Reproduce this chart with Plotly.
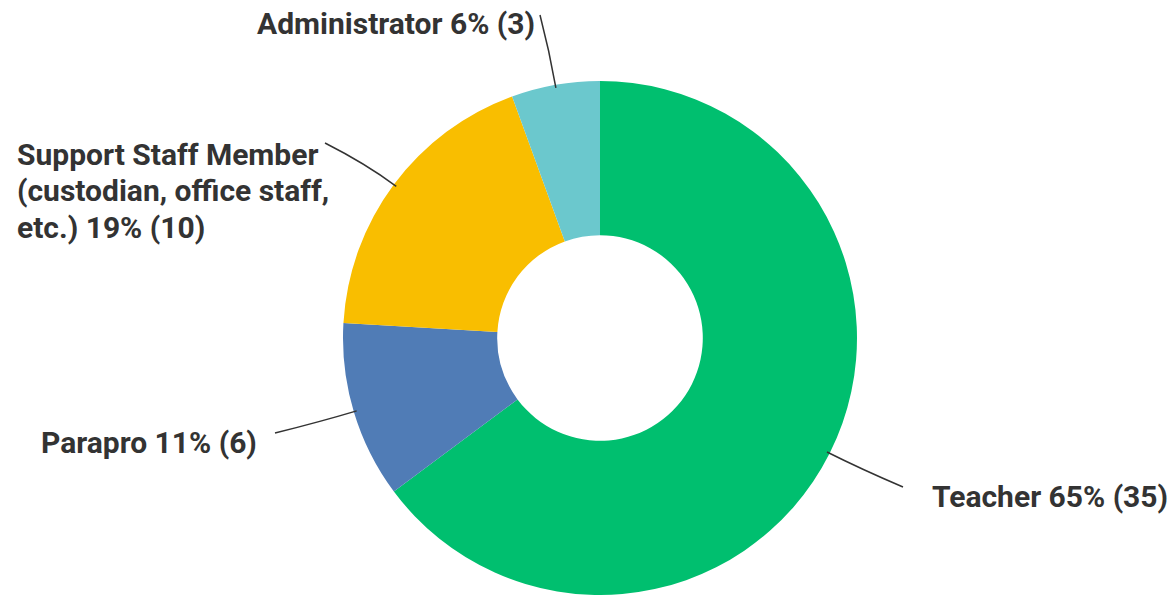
import math
import plotly.graph_objects as go

# ---- data ----
categories = ["Teacher", "Parapro", "Support Staff Member<br>(custodian, office staff,<br>etc.)", "Administrator"]
counts = [35, 6, 10, 3]
colors = ["#00BF6F", "#507CB6", "#F9BE00", "#6BC8CD"]

W, H = 1173, 595
CX, CY, R = 600, 338, 257
LINE_GAP = 36

fig = go.Figure(go.Pie(
    labels=categories,
    values=counts,
    hole=0.4,
    sort=False,
    direction="clockwise",
    rotation=0,
    marker=dict(colors=colors, line=dict(width=0)),
    textinfo="none",
    hoverinfo="label+percent+value",
    domain=dict(x=[(CX - R) / W, (CX + R) / W], y=[(H - CY - R) / H, (H - CY + R) / H]),
    showlegend=False,
))

# label placement (layout): anchor of first-line text, line end point
label_layout = [
    dict(x=930, y=496, xanchor="left", end=(903, 487)),
    dict(x=259, y=442, xanchor="right", end=(275, 433)),
    dict(x=15, y=155, xanchor="left", end=(325, 143)),
    dict(x=537, y=24, xanchor="right", end=(540, 15)),
]

def px2paper(px, py):
    return px / W, 1 - py / H

total = sum(counts)
cum = 0
shapes = []
annotations = []
for cat, v, lay in zip(categories, counts, label_layout):
    pct = round(100 * v / total)
    mid = (cum + v / 2) / total * 2 * math.pi
    cum += v
    dx, dy = math.sin(mid), -math.cos(mid)
    sx, sy = CX + (R - 3) * dx, CY + (R - 3) * dy
    cx, cy = sx + 38 * dx, sy + 38 * dy
    ex, ey = lay["end"]
    a = px2paper(sx, sy)
    b = px2paper(cx, cy)
    c = px2paper(ex, ey)
    shapes.append(dict(
        type="path", xref="paper", yref="paper",
        path=f"M {a[0]},{a[1]} Q {b[0]},{b[1]} {c[0]},{c[1]}",
        line=dict(color="#333333", width=1.5),
    ))
    lines = f"{cat} {pct}% ({v})".split("<br>")
    for i, ln in enumerate(lines):
        lx, ly = px2paper(lay["x"], lay["y"] + i * LINE_GAP)
        annotations.append(dict(
            text=ln, x=lx, y=ly, xref="paper", yref="paper",
            xanchor=lay["xanchor"], yanchor="middle", align="left",
            showarrow=False,
            font=dict(family="Roboto", size=30, color="#333333", weight=700),
        ))

fig.update_layout(
    width=W, height=H,
    margin=dict(l=0, r=0, t=0, b=0),
    paper_bgcolor="white", plot_bgcolor="white",
    shapes=shapes, annotations=annotations,
)

fig.write_html("out.html", config={"displayModeBar": False},
               post_script="document.body.style.margin='0';document.body.style.overflow='hidden';")
